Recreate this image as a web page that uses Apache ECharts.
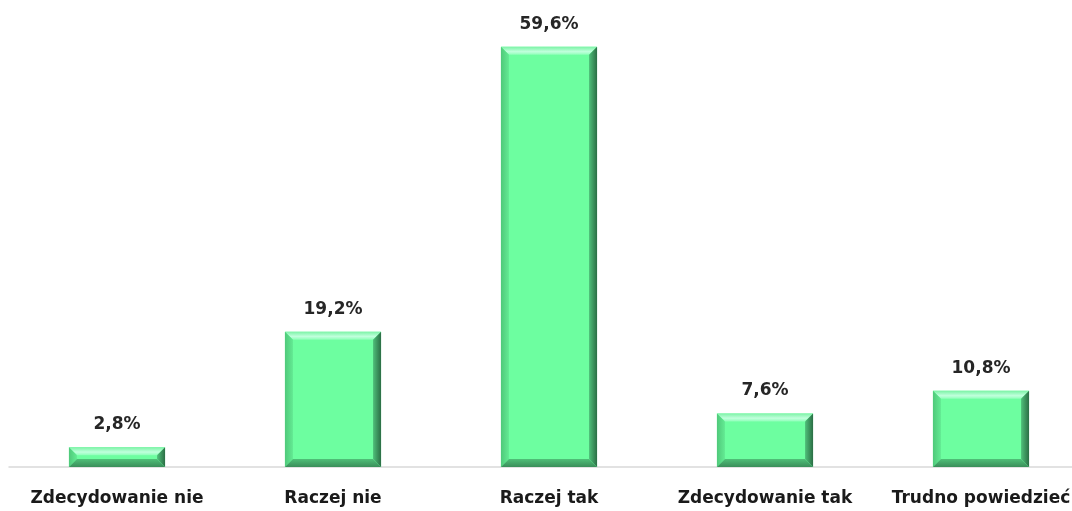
<!DOCTYPE html>
<html>
<head>
<meta charset="utf-8">
<script src="https://cdn.jsdelivr.net/npm/echarts@6/dist/echarts.min.js"></script>
<style>
html,body{margin:0;padding:0;background:#fff;overflow:hidden;width:1072px;height:511px;}
#chart{width:1090px;height:511px;}
</style>
</head>
<body>
<div id="chart"></div>
<script>
const categories = ['Zdecydowanie nie', 'Raczej nie', 'Raczej tak', 'Zdecydowanie tak', 'Trudno powiedzieć'];
const values = [2.8, 19.2, 59.6, 7.6, 10.8];

const FONT = '"DejaVu Sans", "Noto Sans", sans-serif';
const BEVEL = 8;

function fmt(v) {
  return v.toFixed(1).replace('.', ',') + '%';
}

function renderBevelBar(params, api) {
  const idx = api.value(0);
  const val = api.value(1);
  const top = api.coord([idx, val]);
  const base = api.coord([idx, 0]);
  const w = api.size([1, 0])[0] * 0.445;
  const x0 = top[0] - w / 2, x1 = top[0] + w / 2;
  const y0 = top[1], y1 = base[1];
  const h = y1 - y0;
  const b = Math.min(BEVEL, h / 2 - 1, w / 2);
  const ix0 = x0 + b, ix1 = x1 - b, iy0 = y0 + b, iy1 = y1 - b;
  return {
    type: 'group',
    children: [
      // front face
      { type: 'rect', shape: { x: x0, y: y0, width: w, height: h }, style: { fill: '#6dfea0' } },
      // top bevel
      { type: 'polygon', shape: { points: [[x0, y0], [x1, y0], [ix1, iy0], [ix0, iy0]] },
        style: { fill: new echarts.graphic.LinearGradient(0, 0, 0, 1, [
          { offset: 0, color: '#7cf3a6' }, { offset: 0.6, color: '#c0ffdc' }, { offset: 1, color: '#8effb8' }]) } },
      // left bevel
      { type: 'polygon', shape: { points: [[x0, y0], [ix0, iy0], [ix0, iy1], [x0, y1]] },
        style: { fill: new echarts.graphic.LinearGradient(0, 0, 1, 0, [
          { offset: 0, color: '#4fc97a' }, { offset: 1, color: '#63ea93' }]) } },
      // right bevel
      { type: 'polygon', shape: { points: [[x1, y0], [x1, y1], [ix1, iy1], [ix1, iy0]] },
        style: { fill: new echarts.graphic.LinearGradient(0, 0, 1, 0, [
          { offset: 0, color: '#4fc07a' }, { offset: 1, color: '#2b6e45' }]) } },
      // bottom bevel
      { type: 'polygon', shape: { points: [[x0, y1], [ix0, iy1], [ix1, iy1], [x1, y1]] },
        style: { fill: new echarts.graphic.LinearGradient(0, 0, 0, 1, [
          { offset: 0, color: '#4fbf78' }, { offset: 1, color: '#3a8e5a' }]) } },
      // value label
      { type: 'text', x: top[0], y: y0 - 14,
        style: { text: fmt(val), fill: '#262626', font: 'bold 17px ' + FONT, align: 'center', verticalAlign: 'bottom' } }
    ]
  };
}

const chart = echarts.init(document.getElementById('chart'), null, { renderer: 'canvas' });
chart.setOption({
  animation: false,
  backgroundColor: '#ffffff',
  grid: { left: 9, right: 1, top: 44, bottom: 44, containLabel: false },
  xAxis: {
    type: 'category',
    data: categories,
    axisLine: { lineStyle: { color: '#d9d9d9', width: 1.5 } },
    axisTick: { show: false },
    axisLabel: { color: '#1a1a1a', fontFamily: FONT, fontWeight: 'bold', fontSize: 17, margin: 23, interval: 0 }
  },
  yAxis: {
    type: 'value', min: 0, max: 60,
    show: false,
    splitLine: { show: false }
  },
  series: [{
    type: 'custom',
    renderItem: renderBevelBar,
    data: values.map((v, i) => [i, v]),
    encode: { x: 0, y: 1 }
  }]
});
</script>
</body>
</html>
